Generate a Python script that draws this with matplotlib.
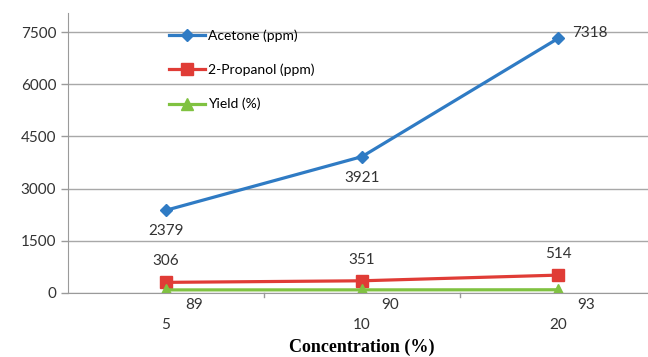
import matplotlib.pyplot as plt

# Concentration series
concentration = ["5", "10", "20"]
acetone = [2379, 3921, 7318]
propanol = [306, 351, 514]
yield_pct = [89, 90, 93]
y_ticks = [0, 1500, 3000, 4500, 6000, 7500]

plt.rcParams["font.family"] = ["Lato", "DejaVu Sans"]

fig = plt.figure(figsize=(6.48, 3.57), dpi=100)
ax = fig.add_axes([68 / 648, 1 - 293 / 357, 588 / 648, 280 / 357])

x = list(range(len(concentration)))
blue = "#2F7BC4"
red = "#E03C36"
green = "#80C241"

ax.plot(x, acetone, color=blue, lw=2.3, marker="D", ms=6, label="Acetone (ppm)")
ax.plot(x, propanol, color=red, lw=2.3, marker="s", ms=9, label="2-Propanol (ppm)")
ax.plot(x, yield_pct, color=green, lw=2.3, marker="^", ms=9, label="Yield (%)")

# data labels
lab = dict(fontsize=11, color="#333333")
for i, v in enumerate(acetone):
    if i == len(acetone) - 1:
        ax.annotate(str(v), (i, v), xytext=(10, 4), textcoords="offset points",
                    ha="left", va="center", **lab)
    else:
        ax.annotate(str(v), (i, v), xytext=(0, -10), textcoords="offset points",
                    ha="center", va="top", **lab)
for i, v in enumerate(propanol):
    ax.annotate(str(v), (i, v), xytext=(0, 10), textcoords="offset points",
                ha="center", va="bottom", **lab)
for i, v in enumerate(yield_pct):
    ax.annotate(str(v), (i, v), xytext=(14, -6), textcoords="offset points",
                ha="left", va="top", **lab)

ax.set_xlim(-0.5, 2.5)
ax.set_ylim(0, 8050)
ax.set_yticks(y_ticks)
ax.set_yticklabels([str(t) for t in y_ticks], fontsize=11, color="#333333")
ax.set_xticks(x)
ax.set_xticklabels(concentration, fontsize=11, color="#333333")
ax.tick_params(axis="x", length=0, pad=18)
ax.tick_params(axis="y", length=5, color="#9a9a9a", width=1)
for b in [0.5, 1.5]:
    ax.plot([b, b], [0, -4 * 8050 / 280], color="#9a9a9a", lw=1, clip_on=False)

ax.grid(axis="y", color="#a8a8a8", lw=1)
ax.set_axisbelow(True)
for s in ["top", "right"]:
    ax.spines[s].set_visible(False)
ax.spines["left"].set_color("#9a9a9a")
ax.spines["bottom"].set_color("#9a9a9a")

ax.set_xlabel("Concentration (%)", fontsize=13, fontweight="bold",
              family="Liberation Serif", labelpad=5)

ax.legend(loc="upper left", bbox_to_anchor=(0.15, 0.985), frameon=False,
          fontsize=10, handlelength=2.6, labelspacing=1.55, handletextpad=0.2)

fig.savefig("out.png", dpi=100)
